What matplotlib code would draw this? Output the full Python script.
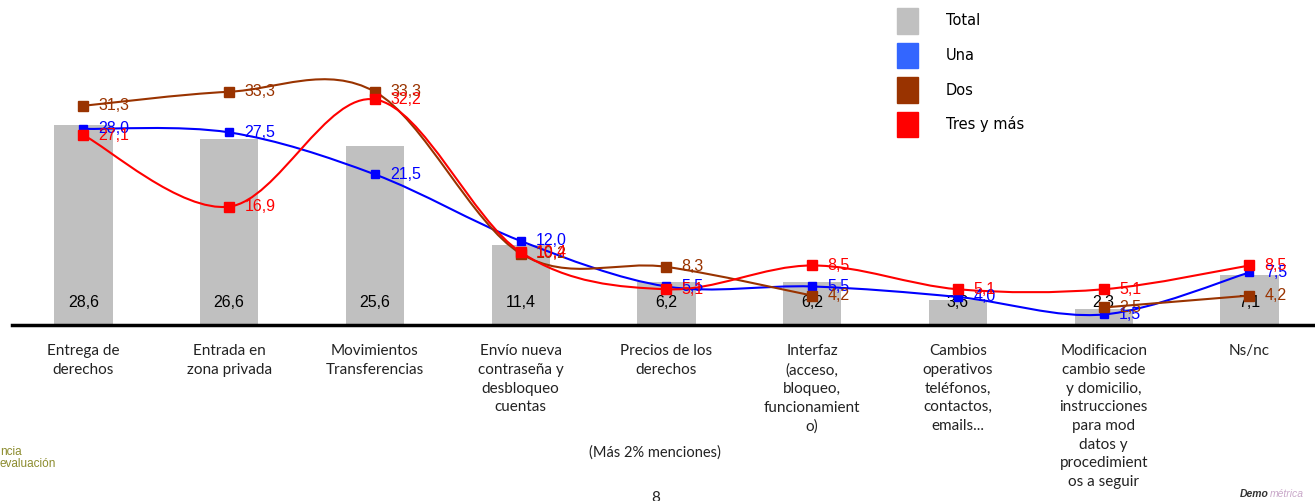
import numpy as np
import matplotlib.pyplot as plt
from matplotlib.path import Path
from matplotlib.patches import PathPatch, Patch

categories = [
    "Entrega de\nderechos",
    "Entrada en\nzona privada",
    "Movimientos\nTransferencias",
    "Envío nueva\ncontraseña y\ndesbloqueo\ncuentas",
    "Precios de los\nderechos",
    "Interfaz\n(acceso,\nbloqueo,\nfuncionamient\no)",
    "Cambios\noperativos\nteléfonos,\ncontactos,\nemails...",
    "Modificacion\ncambio sede\ny domicilio,\ninstrucciones\npara mod\ndatos y\nprocedimient\nos a seguir",
    "Ns/nc",
]
total = [28.6, 26.6, 25.6, 11.4, 6.2, 6.2, 3.6, 2.3, 7.1]
una = [28.0, 27.5, 21.5, 12.0, 5.5, 5.5, 4.0, 1.5, 7.5]
dos = [31.3, 33.3, 33.3, 10.2, 8.3, 4.2, np.nan, 2.5, 4.2]
tres = [27.1, 16.9, 32.2, 10.4, 5.1, 8.5, 5.1, 5.1, 8.5]

BAR_GREY = "#C0C0C0"
BLUE = "#0000FF"
BROWN = "#993300"
RED = "#FF0000"


def fmt(v):
    return f"{v:.1f}".replace(".", ",")


def smooth_path(x, y):
    # catmull-rom -> cubic bezier, like the spreadsheet "smoothed line"
    verts = [(x[0], y[0])]
    codes = [Path.MOVETO]
    n = len(x)
    for i in range(n - 1):
        xa, ya = (x[i - 1], y[i - 1]) if i > 0 else (x[i], y[i])
        xd, yd = (x[i + 2], y[i + 2]) if i + 2 < n else (x[i + 1], y[i + 1])
        c1 = (x[i] + (x[i + 1] - xa) / 6, y[i] + (y[i + 1] - ya) / 6)
        c2 = (x[i + 1] - (xd - x[i]) / 6, y[i + 1] - (yd - y[i]) / 6)
        verts += [c1, c2, (x[i + 1], y[i + 1])]
        codes += [Path.CURVE4] * 3
    return Path(verts, codes)


def draw_series(ax, values, color, msize):
    vals = np.array(values, dtype=float)
    xs = np.arange(len(vals))
    ok = ~np.isnan(vals)
    # split into runs without gaps
    runs, cur = [], []
    for i in range(len(vals)):
        if ok[i]:
            cur.append(i)
        elif cur:
            runs.append(cur)
            cur = []
    if cur:
        runs.append(cur)
    for r in runs:
        if len(r) > 1:
            p = smooth_path(xs[r], vals[r])
            ax.add_patch(PathPatch(p, facecolor="none", edgecolor=color, lw=1.5, zorder=3))
    ax.plot(xs[ok], vals[ok], "s", color=color, ms=msize, ls="none", zorder=4)
    for x, v in zip(xs[ok], vals[ok]):
        ax.annotate(fmt(v), (x, v), xytext=(11, 0), textcoords="offset points",
                    ha="left", va="center", color=color, fontsize=11.5,
                    family="Liberation Sans", zorder=5)


fig = plt.figure(figsize=(13.15, 5.01), dpi=100)
ax = fig.add_axes([12 / 1315, 176 / 501, 1303 / 1315, 325 / 501])

x = np.arange(len(categories))
ax.bar(x, total, width=0.4, color=BAR_GREY, zorder=1)
for xi, v in zip(x, total):
    ax.text(xi, 3.2, fmt(v), ha="center", va="center", fontsize=11.5,
            family="Liberation Sans", color="black", zorder=2)

draw_series(ax, una, BLUE, 5.5)
draw_series(ax, dos, BROWN, 7.5)
draw_series(ax, tres, RED, 6.5)

ax.set_xlim(-0.49, 8.45)
ax.set_ylim(0, 46.4)
for s in ["top", "right", "left"]:
    ax.spines[s].set_visible(False)
ax.spines["bottom"].set_linewidth(2.5)
ax.set_yticks([])
ax.set_xticks(x)
ax.set_xticklabels(categories, fontsize=11, family="Lato", color="#222222",
                   linespacing=1.42, va="top")
ax.tick_params(axis="x", length=0, pad=14)

handles = [Patch(color=BAR_GREY), Patch(color="#3366FF"), Patch(color=BROWN), Patch(color=RED)]
fig.legend(handles, ["Total", "Una", "Dos", "Tres y más"], loc="upper left",
           bbox_to_anchor=(897 / 1315, 1 - 8 / 501), frameon=False,
           borderpad=0, borderaxespad=0, handlelength=1.44, handleheight=2.32,
           handletextpad=1.9, labelspacing=0.62,
           prop={"family": "DejaVu Sans", "size": 10.5})

fig.text(655 / 1315, 1 - 453 / 501, "(Más 2% menciones)", ha="center", va="center",
         fontsize=10.5, family="Lato", color="#222222")
fig.text(656 / 1315, 1 - 491 / 501, "8", ha="center", va="top", fontsize=11,
         family="Lato", color="#222222")
fig.text(0, 1 - 446 / 501, "ncia\nevaluación", ha="left", va="top", fontsize=8.5,
         color="#8C8C2E", family="Liberation Sans", linespacing=0.95)
fig.text(1240 / 1315, 1 - 494 / 501, "Demo", ha="left", va="center", fontsize=7.5,
         fontweight="bold", style="italic", color="#333333", family="Liberation Sans")
fig.text(1270 / 1315, 1 - 494 / 501, "métrica", ha="left", va="center", fontsize=7.5,
         style="italic", color="#C9A8C9", family="Liberation Sans")

fig.savefig("out.png", dpi=100)
